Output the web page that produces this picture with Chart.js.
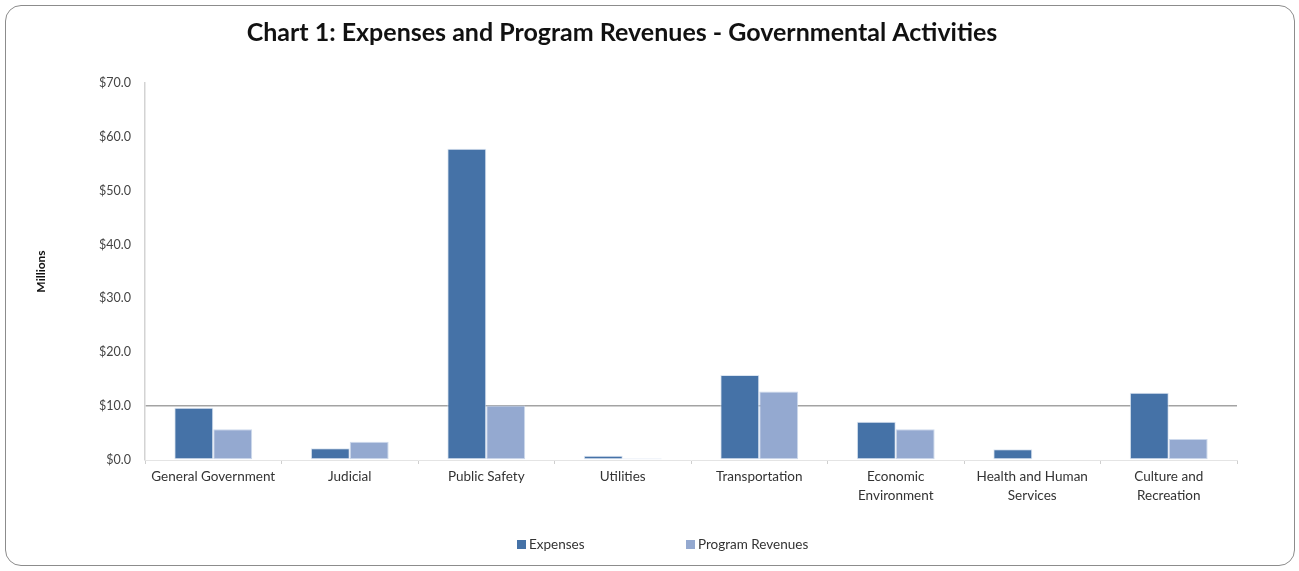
<!DOCTYPE html>
<html>
<head>
<meta charset="utf-8">
<script src="https://cdn.jsdelivr.net/npm/chart.js@4/dist/chart.umd.min.js"></script>
<style>
  html, body { margin: 0; padding: 0; background: #fff; }
  body { width: 1299px; height: 571px; position: relative; overflow: hidden; }
  #frame {
    position: absolute; left: 5px; top: 5px; width: 1290px; height: 561px;
    border: 1.5px solid #8c8c8c; border-radius: 16px; box-sizing: border-box;
  }
  #wrap { position: absolute; left: 0; top: 0; width: 1244px; height: 571px; }
  #legend {
    position: absolute; top: 536px; left: 0; width: 1299px; height: 16px;
    font-family: Lato, "Liberation Sans", sans-serif; font-size: 13.5px; color: #333;
  }
  #legend span.item { position: absolute; top: 0; white-space: nowrap; }
  #legend i { display: inline-block; width: 9px; height: 9px; margin-right: 3px; vertical-align: 0px; }
</style>
</head>
<body>
<div id="frame"></div>
<div id="wrap"><canvas id="govChart"></canvas></div>
<div id="legend"></div>
<script>
// expenses vs program revenues by function, in millions of dollars
var categories = [
  'General Government', 'Judicial', 'Public Safety', 'Utilities',
  'Transportation', ['Economic', 'Environment'], ['Health and Human', 'Services'], ['Culture and', 'Recreation']
];
var expenses = [9.7, 2.2, 57.8, 0.8, 15.8, 7.1, 2.0, 12.5];
var programRevenues = [5.7, 3.4, 10.1, 0.3, 12.7, 5.7, 0, 3.9];
var seriesNames = ['Expenses', 'Program Revenues'];
var seriesColors = ['#4572a7', '#94a9d0'];
var yTicks = [0, 10, 20, 30, 40, 50, 60, 70];

(function(){
  var ctx = document.getElementById('govChart').getContext('2d');
  var font = 'Lato, "Liberation Sans", sans-serif';

  var chart = new Chart(ctx, {
    type: 'bar',
    data: {
      labels: categories,
      datasets: [
        { label: seriesNames[0], data: expenses, backgroundColor: seriesColors[0],
          borderColor: 'rgba(215,226,240,0.9)', borderWidth: 1, borderSkipped: false,
          categoryPercentage: 0.57, barPercentage: 1 },
        { label: seriesNames[1], data: programRevenues, backgroundColor: seriesColors[1],
          borderColor: 'rgba(200,213,234,0.9)', borderWidth: 1, borderSkipped: false,
          categoryPercentage: 0.57, barPercentage: 1 }
      ]
    },
    options: {
      responsive: true, maintainAspectRatio: false, animation: false,
      layout: { padding: { left: 7, right: 7, top: 0, bottom: 41 } },
      plugins: {
        legend: { display: false },
        tooltip: { enabled: false },
        title: {
          display: true,
          text: 'Chart 1: Expenses and Program Revenues - Governmental Activities',
          color: '#111',
          font: { family: font, size: 25, weight: 'bold' },
          padding: { top: 18, bottom: 35 }
        }
      },
      scales: {
        x: {
          grid: { display: true, drawOnChartArea: false, drawTicks: true, tickLength: 4, color: '#cfcfcf', offset: true },
          border: { display: true, color: '#e4e4e4', width: 1 },
          ticks: { color: '#333', padding: 3, maxRotation: 0, autoSkip: false,
                   font: { family: font, size: 13.5, lineHeight: 1.4 } },
          afterFit: function(s){ s.height = 70; }
        },
        y: {
          min: 0, max: 70,
          afterBuildTicks: function(s){ s.ticks = yTicks.map(function(v){ return { value: v }; }); },
          grid: {
            drawTicks: false,
            color: function(c){ return c.tick && c.tick.value === 10 ? '#a3a3a3' : 'rgba(0,0,0,0)'; },
            lineWidth: 1.5
          },
          border: { display: true, color: '#d3d3d3', width: 1.5 },
          ticks: { color: '#444', padding: 14, font: { family: font, size: 12.5 },
                   callback: function(v){ return '$' + Number(v).toFixed(1); } },
          title: { display: true, text: 'Millions', color: '#111',
                   font: { family: font, size: 12, weight: 'bold' }, padding: { top: 27, bottom: 0 } },
          afterFit: function(s){ s.width = 138; }
        }
      }
    }
  });

  // legend below the plot, built from the datasets
  var legend = document.getElementById('legend');
  var lefts = [517, 686];
  chart.data.datasets.forEach(function(ds, i){
    var item = document.createElement('span');
    item.className = 'item';
    item.style.left = lefts[i] + 'px';
    item.innerHTML = '<i style="background:' + ds.backgroundColor + '"></i>' + ds.label;
    legend.appendChild(item);
  });
})();
</script>
</body>
</html>
